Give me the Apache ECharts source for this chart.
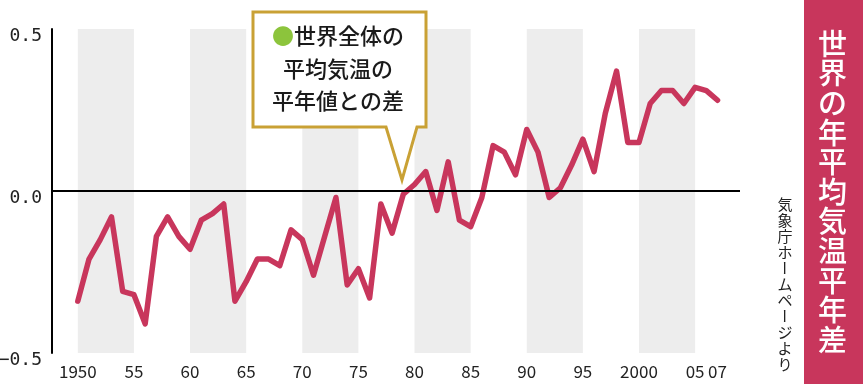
<!DOCTYPE html>
<html>
<head>
<meta charset="utf-8">
<script src="https://cdn.jsdelivr.net/npm/echarts@6.0.0/dist/echarts.min.js"></script>
<style>
html,body{margin:0;padding:0;background:#fff;}
#chart{width:863px;height:384px;}
</style>
</head>
<body>
<div id="chart"></div>
<script>
// ---- data ----
var years = [1950,1951,1952,1953,1954,1955,1956,1957,1958,1959,
             1960,1961,1962,1963,1964,1965,1966,1967,1968,1969,
             1970,1971,1972,1973,1974,1975,1976,1977,1978,1979,
             1980,1981,1982,1983,1984,1985,1986,1987,1988,1989,
             1990,1991,1992,1993,1994,1995,1996,1997,1998,1999,
             2000,2001,2002,2003,2004,2005,2006,2007];
var anomaly = [-0.34,-0.21,-0.15,-0.08,-0.31,-0.32,-0.41,-0.14,-0.08,-0.14,
               -0.18,-0.09,-0.07,-0.04,-0.34,-0.28,-0.21,-0.21,-0.23,-0.12,
               -0.15,-0.26,-0.14,-0.02,-0.29,-0.24,-0.33,-0.04,-0.13,-0.01,
               0.02,0.06,-0.06,0.09,-0.09,-0.11,-0.02,0.14,0.12,0.05,
               0.19,0.12,-0.02,0.01,0.08,0.16,0.06,0.24,0.37,0.15,
               0.15,0.27,0.31,0.31,0.27,0.32,0.31,0.28];
var xTickValues = [1950,1955,1960,1965,1970,1975,1980,1985,1990,1995,2000,2005,2007];
var xTickLabels = ['1950','55','60','65','70','75','80','85','90','95','2000','05','07'];
var bandStarts = [1950,1960,1970,1980,1990,2000];
var bandLength = 5;
var yTickLabels = {'-0.5':'\u22120.5','0':'0.0','0.5':'0.5'};
var calloutLines = ['世界全体の','平均気温の','平年値との差'];
var calloutBullet = '●';
var titleText = '世界の年平均気温平年差';
var sourceText = '気象庁ホームページより';

// ---- styles ----
var RED = '#c8365c';
var GOLD = '#c9a135';
var GREEN = '#8cc43c';
var CJK = '"Noto Sans CJK JP", "Noto Sans", sans-serif';

var chart = echarts.init(document.getElementById('chart'), null, {renderer:'canvas'});

var lineData = years.map(function(y,i){ return [y, anomaly[i]]; });
var bands = bandStarts.map(function(s){ return [{xAxis:s},{xAxis:s+bandLength}]; });

function verticalChars(str, cx, top, step, size, color, weight){
  var out = [];
  for (var i=0;i<str.length;i++){
    var ch = str[i];
    var el = {
      type:'text',
      x: cx, y: top + step*i + step/2,
      style:{text:ch, fill:color, font: weight+' '+size+'px '+CJK, align:'center', verticalAlign:'middle'},
      z:100
    };
    if (ch === 'ー') { el.rotation = -Math.PI/2; el.originX = 0; el.originY = 0; }
    out.push(el);
  }
  return out;
}

var graphics = [
  // right title panel
  {type:'rect', shape:{x:804,y:0,width:59,height:384}, style:{fill:RED}, z:90},
  // callout box with pointer
  {type:'polygon', z:95,
   shape:{points:[[253,12],[426,12],[426,127],[417,127],[402,180],[386,127],[253,127]]},
   style:{fill:'#fff', stroke:GOLD, lineWidth:3, lineJoin:'miter'}},
  {type:'text', x:338, y:36, z:100,
   style:{text:'{g|'+calloutBullet+'}{t|'+calloutLines[0]+'}', align:'center', verticalAlign:'middle',
     rich:{g:{fill:GREEN, font:'500 22px '+CJK}, t:{fill:'#1a1a1a', font:'500 22px '+CJK}}}},
  {type:'text', x:338, y:69, z:100,
   style:{text:calloutLines[1], fill:'#1a1a1a', font:'500 22px '+CJK, align:'center', verticalAlign:'middle'}},
  {type:'text', x:338, y:101, z:100,
   style:{text:calloutLines[2], fill:'#1a1a1a', font:'500 22px '+CJK, align:'center', verticalAlign:'middle'}}
].concat(verticalChars(titleText, 832.5, 29, 29.6, 29, '#fff', '500'))
 .concat(verticalChars(sourceText, 785, 196, 16, 15, '#222', 'normal'));

chart.setOption({
  animation:false,
  backgroundColor:'#fff',
  grid:{left:52, right:123, top:29, bottom:31, containLabel:false, outerBoundsMode:'none'},
  xAxis:{
    type:'value', min:1947.7, max:2009,
    splitLine:{show:false}, axisLine:{show:false}, axisTick:{show:false},
    axisLabel:{
      customValues: xTickValues,
      margin:10,
      color:'#222', fontSize:17, fontFamily:CJK,
      formatter:function(v){ var i = xTickValues.indexOf(Math.round(v)); return i>=0 ? xTickLabels[i] : ''; }
    }
  },
  yAxis:{
    type:'value', min:-0.5, max:0.5, interval:0.5,
    splitLine:{show:false},
    axisLine:{show:true, lineStyle:{color:'#000', width:2}},
    axisTick:{show:false},
    axisLabel:{
      margin:10, color:'#222', fontSize:18, fontFamily:'"DejaVu Sans Mono", monospace',
      verticalAlign:'top', lineHeight:14,
      formatter:function(v){ var k = String(Math.round(v*10)/10); return yTickLabels[k] || String(v); }
    }
  },
  graphic: graphics,
  series:[
    {
      type:'line', data:[], z:1, silent:true,
      markArea:{silent:true, itemStyle:{color:'#ededed'}, data:bands},
      markLine:{silent:true, symbol:['none','none'], label:{show:false},
        lineStyle:{color:'#000', width:2, type:'solid'}, data:[{yAxis:0}]}
    },
    {
      type:'line', data:lineData, z:3, showSymbol:false, smooth:false,
      lineStyle:{color:RED, width:5.5, join:'round', cap:'round'},
      itemStyle:{color:RED}
    }
  ]
});
</script>
</body>
</html>
